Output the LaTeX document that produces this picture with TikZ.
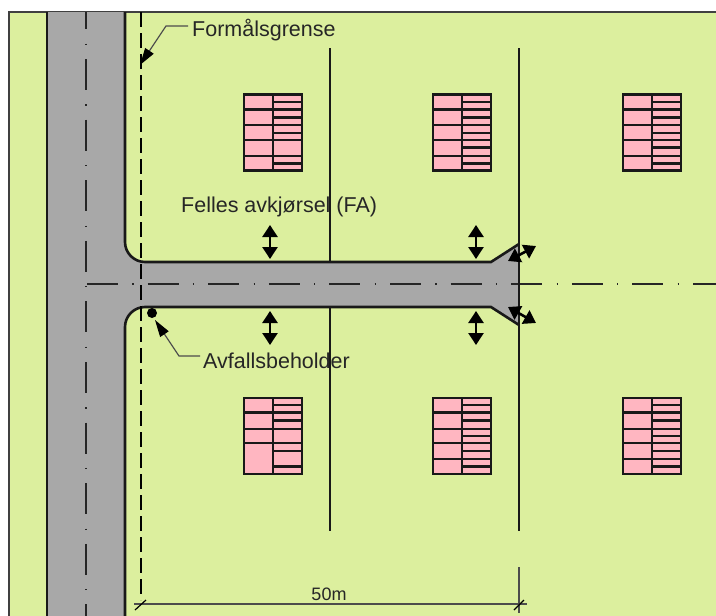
\documentclass[tikz,border=0pt]{standalone}
\usepackage{fontspec}
\setmainfont{Liberation Sans}
\usetikzlibrary{arrows.meta}
\definecolor{PlotGreen}{RGB}{220,239,158}
\definecolor{RoadGray}{RGB}{168,168,168}
\definecolor{HousePink}{RGB}{255,182,193}
\tikzset{
  thinline/.style={line width=1.2,color=black!70},
  edgeline/.style={line width=2.6,color=black!90},
  centreline/.style={line width=1.1,color=black!85,dash pattern=on 31pt off 14.3pt on 1.2pt off 14.1pt},
  dblarrow/.style={line width=2.6,{Triangle[length=12pt,width=15pt]}-{Triangle[length=12pt,width=15pt]}},
  leadarrow/.style={thinline,-{Triangle[length=17pt,width=10pt,color=black]}},
  houseline/.style={line width=2.3,draw=black!90},
  lbl/.style={inner sep=0pt,font=\fontsize{21.5}{25}\selectfont,color=black!85}
}
\begin{document}
\begin{tikzpicture}[x=1pt,y=-1pt]
\useasboundingbox (0,0) rectangle (716,616);
% plot and frame
\fill[PlotGreen] (9,12) rectangle (716,616);
\draw[line width=1.4,color=black!75] (9,616) -- (9,12) -- (716,12);

% dividing line under the road
\draw[edgeline] (330,48) -- (330,531);

% road
\fill[RoadGray] (47,12) -- (125,12) -- (125,242) .. controls (125,253) and (134,262) .. (145,262) -- (491,262) -- (519,244) -- (519,325) -- (491,307) -- (145,307) .. controls (134,307) and (125,316) .. (125,327) -- (125,616) -- (47,616) -- cycle;
\draw[edgeline] (47,12) -- (47,616);
\draw[edgeline] (125,12) -- (125,242) .. controls (125,253) and (134,262) .. (145,262) -- (491,262) -- (519,244);
\draw[edgeline] (125,616) -- (125,327) .. controls (125,316) and (134,307) .. (145,307) -- (491,307) -- (519,325);

% centre lines
\draw[centreline,dash phase=13.6pt] (86,12) -- (86,616);
\draw[centreline] (87,284) -- (716,284);

% dividing lines
\draw[line width=2.2,dash pattern=on 15pt off 6pt] (141,12) -- (141,600);
\draw[edgeline] (519,48) -- (519,531);

% houses
\foreach \hx/\hs/\hy/\lista/\listb in {
  244/28.7/94.5/{15,30.7,45.7,61.3}/{7.3,15,23,30.7,38.3,45.7,61.3,69},
  433.3/29/94.5/{15,30.7,45.7,61.3}/{7.3,15,23,30.7,38.3,45.7,53,61.3,69},
  623.3/28.4/94.5/{15,30.7,45.7,61.3}/{7.3,15,23,30.7,38.3,45.7,53,61.3,69},
  244/28.7/398.3/{14.3,30.7,45}/{6.7,14.3,22.3,30.7,45,52.7,68.3},
  433.3/29/398.3/{14.3,30.7,45,60.7}/{6.7,14.3,22.3,30.7,37.7,45,52.7,60.7,68.3},
  623.3/28.4/398.3/{14.3,30.7,45,60.7}/{6.7,14.3,22.3,30.7,37.7,45,52.7,60.7,68.3}}{
\begin{scope}[shift={(\hx,\hy)}]
  \filldraw[fill=HousePink,houseline] (0,0) rectangle (58,76);
  \draw[houseline] (\hs,0) -- (\hs,76);
  \foreach \d in \lista {\draw[houseline] (0,\d) -- (\hs,\d);}
  \foreach \d in \listb {\draw[houseline] (\hs,\d) -- (58,\d);}
\end{scope}
}

% access arrows
\draw[dblarrow] (270,225) -- (270,259);
\draw[dblarrow] (270,311) -- (270,345);
\draw[dblarrow] (476,225) -- (476,259);
\draw[dblarrow] (476,311) -- (476,345);
\draw[dblarrow] (508,261) -- (536,246);
\draw[dblarrow] (508,307) -- (536,323);

% labels
\node[lbl,anchor=west] (formaal) at (192,30) {Formålsgrense};
\node[lbl,anchor=west] (felles) at (181,207) {Felles avkjørsel (FA)};
\node[lbl,anchor=west] (avfall) at (203,361) {Avfallsbeholder};
\node[lbl,anchor=south,font=\fontsize{18}{22}\selectfont] (lengde) at (329,601) {50m};

% leaders
\coordinate (grensetip) at (140,65);
\coordinate (beholder) at (152,313);
\coordinate (beholdertip) at (155,320);
\draw[leadarrow] (formaal.west) ++(-4,-4) -- (166,26) -- (grensetip);
\draw[leadarrow] (avfall.west) ++(-3,-5) -- (179,356) -- (beholdertip);
\fill (beholder) circle (5);

% dimension
\draw[thinline] (134,604) -- (527,604);
\draw[thinline] (519,567) -- (519,613);
\draw[line width=1.2] (135,610) -- (146,600);
\draw[line width=1.2] (514,610) -- (524,600);
\end{tikzpicture}
\end{document}
